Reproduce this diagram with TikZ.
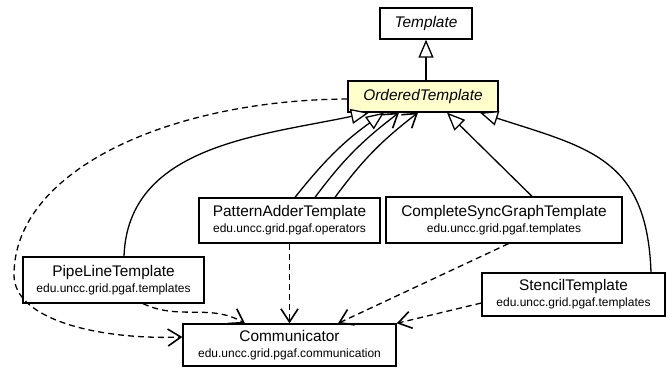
\documentclass[tikz,border=0pt]{standalone}
\usepackage{fontspec}
\setmainfont{Liberation Sans}
\usetikzlibrary{arrows.meta}
\definecolor{abstractfill}{RGB}{255,255,204}
\newcommand{\clsname}{\fontsize{15.4}{16}\selectfont}
\newcommand{\pkgname}{\fontsize{12}{16}\selectfont}

\begin{document}
\begin{tikzpicture}[x=1pt,y=-1pt,line width=1.3pt,
		box/.style={draw,inner sep=0pt,align=center,font=\pkgname},
		gen/.style={-{Triangle[length=18pt,width=15pt,fill=white]}},
		assoc/.style={-{Straight Barb[length=13pt,width=17pt,line width=1.6pt]}},
		dep/.style={dash pattern=on 6pt off 4pt,-{Straight Barb[length=13pt,width=17pt,line width=1.6pt]}}]
		\useasboundingbox (0,0) rectangle (669,367);
		\node[box,minimum width=92pt,minimum height=31pt] (T) at (426,23.5) {\clsname\itshape Template};
		\node[box,fill=abstractfill,minimum width=150pt,minimum height=31pt] (OT) at (423,96.5) {\clsname\itshape OrderedTemplate};
		\node[box,minimum width=181pt,minimum height=45pt] (PA) at (289.5,220.5) {{\clsname PatternAdderTemplate}\\edu.uncc.grid.pgaf.operators};
		\node[box,minimum width=236pt,minimum height=46pt] (CS) at (504,220) {{\clsname CompleteSyncGraphTemplate}\\edu.uncc.grid.pgaf.templates};
		\node[box,minimum width=181pt,minimum height=46pt] (PL) at (113.5,280) {{\clsname PipeLineTemplate}\\edu.uncc.grid.pgaf.templates};
		\node[box,minimum width=183pt,minimum height=43pt] (ST) at (573.5,294.5) {{\clsname StencilTemplate}\\edu.uncc.grid.pgaf.templates};
		\node[box,minimum width=213pt,minimum height=42pt] (C) at (289.5,345) {{\clsname Communicator}\\edu.uncc.grid.pgaf.communication};
		\draw[gen] ([xshift=3pt]OT.north) -- (T.south);
		\draw[gen] ([xshift=10.5pt]PL.north) to[out=88,in=192] ([xshift=-54pt]OT.south);
		\draw[gen] ([xshift=5.5pt]PA.north) to[bend left=8] ([xshift=-39pt]OT.south);
		\draw[assoc] ([xshift=25.5pt]PA.north) to[bend left=8] ([xshift=-24pt]OT.south);
		\draw[assoc] ([xshift=45.5pt]PA.north) to[bend left=8] ([xshift=-5pt]OT.south);
		\draw[gen] ([xshift=28pt]CS.north) -- ([xshift=24pt]OT.south);
		\draw[gen] ([xshift=77.5pt]ST.north) to[out=92,in=-18,looseness=1.25] ([xshift=57pt]OT.south);
		\draw[dep] ([yshift=-2.5pt]OT.west) .. controls (170,100) and (14,170) .. (14,275) .. controls (14,320) and (100,340) .. ([yshift=8pt]C.west);
		\draw[dep] ([xshift=29.5pt]PL.south) to[out=-25,in=150] ([xshift=-44.5pt]C.north);
		\draw[dep] (PA) -- (C);
		\draw[dep] ([xshift=4.5pt]CS.south) -- ([xshift=48.5pt]C.north);
		\draw[dep] ([yshift=-8.5pt]ST.west) -- (C.north east);
	\end{tikzpicture}
\end{document}
